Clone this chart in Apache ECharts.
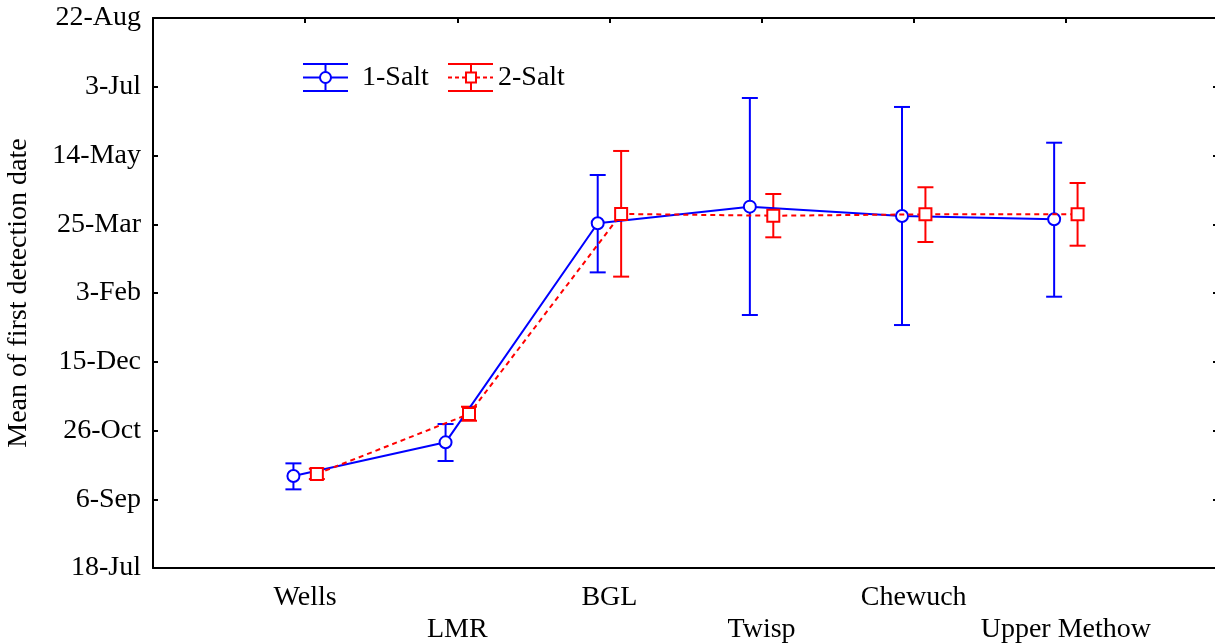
<!DOCTYPE html>
<html>
<head>
<meta charset="utf-8">
<script src="https://cdn.jsdelivr.net/npm/echarts@6/dist/echarts.min.js"></script>
<style>
  html, body { margin: 0; padding: 0; background: #fff; }
  #main { width: 1215px; height: 643px; }
</style>
</head>
<body>
<div id="main"></div>
<script>
// sites along the river
const categories = ['Wells', 'LMR', 'BGL', 'Twisp', 'Chewuch', 'Upper Methow'];
// y axis tick labels, every 50 days from 18-Jul
const dateTicks = ['18-Jul', '6-Sep', '26-Oct', '15-Dec', '3-Feb', '25-Mar', '14-May', '3-Jul', '22-Aug'];

// values are days after 18-Jul
const salt1Mean = [66.9, 91.4, 250.7, 262.8, 256.0, 253.6];
const salt1Low  = [57.2, 77.8, 215.0, 184.0, 176.7, 197.3];
const salt1High = [76.1, 104.7, 285.8, 341.8, 335.3, 309.3];

const salt2Mean = [68.4, 112.0, 257.5, 256.2, 257.2, 257.2];
const salt2Low  = [64.7, 107.1, 211.9, 240.5, 237.1, 234.4];
const salt2High = [72.2, 117.3, 303.3, 272.0, 276.9, 280.0];

const FONT = 'Liberation Serif';
const BLUE = '#0000ff';
const RED = '#ff0000';
const OFF = 0.077; // side shift so the two groups don't overlap

function errorBars(low, high, shift, color) {
  return {
    type: 'custom',
    z: 2,
    data: categories.map((c, i) => [i + 1 + shift, low[i], high[i]]),
    encode: { x: 0, y: [1, 2] },
    renderItem: function (params, api) {
      const x = api.value(0);
      const lo = api.coord([x, api.value(1)]);
      const hi = api.coord([x, api.value(2)]);
      const w = 8;
      const style = { stroke: color, lineWidth: 2 };
      return {
        type: 'group',
        children: [
          { type: 'line', shape: { x1: hi[0], y1: hi[1], x2: lo[0], y2: lo[1] }, style: style },
          { type: 'line', shape: { x1: hi[0] - w, y1: hi[1], x2: hi[0] + w, y2: hi[1] }, style: style },
          { type: 'line', shape: { x1: lo[0] - w, y1: lo[1], x2: lo[0] + w, y2: lo[1] }, style: style }
        ]
      };
    }
  };
}

let myChart = echarts.init(document.getElementById('main'));
myChart.setOption({
  animation: false,
  backgroundColor: '#fff',
  textStyle: { fontFamily: FONT },
  grid: { left: 153, top: 18, width: 1065, height: 550, outerBoundsMode: 'none', containLabel: false },
  xAxis: [
    {
      type: 'value',
      position: 'bottom',
      min: 0, max: 7, interval: 1,
      axisLine: { onZero: false, lineStyle: { color: '#000', width: 2 } },
      axisTick: { show: false },
      splitLine: { show: false },
      axisLabel: {
        color: '#000', fontSize: 28, fontFamily: FONT, lineHeight: 32, margin: 14,
        formatter: function (v) {
          const i = Math.round(v) - 1;
          if (i < 0 || i >= categories.length) return '';
          return (i % 2 ? '\n' : '') + categories[i];
        }
      }
    },
    {
      type: 'value',
      position: 'top',
      min: 0, max: 7, interval: 1,
      axisLine: { onZero: false, lineStyle: { color: '#000', width: 2 } },
      axisTick: { inside: true, length: 5, lineStyle: { color: '#000', width: 2 } },
      axisLabel: { show: false },
      splitLine: { show: false }
    }
  ],
  yAxis: [
    {
      type: 'value',
      position: 'left',
      min: 0, max: 400, interval: 50,
      name: 'Mean of first detection date',
      nameLocation: 'middle',
      nameGap: 120,
      nameTextStyle: { color: '#000', fontSize: 28, fontFamily: FONT },
      axisLine: { show: true, onZero: false, lineStyle: { color: '#000', width: 2 } },
      axisTick: { show: true, inside: true, length: 5, lineStyle: { color: '#000', width: 2 } },
      splitLine: { show: false },
      axisLabel: {
        color: '#000', fontSize: 28, fontFamily: FONT, margin: 12,
        formatter: function (v) { return dateTicks[Math.round(v / 50)]; }
      }
    },
    {
      type: 'value',
      position: 'right',
      min: 0, max: 400, interval: 50,
      axisLine: { show: true, onZero: false, lineStyle: { color: '#000', width: 2 } },
      axisTick: { show: true, inside: true, length: 5, lineStyle: { color: '#000', width: 2 } },
      axisLabel: { show: false },
      splitLine: { show: false }
    }
  ],
  series: [
    errorBars(salt1Low, salt1High, -OFF, BLUE),
    errorBars(salt2Low, salt2High, OFF, RED),
    {
      name: '1-Salt',
      type: 'line',
      z: 3,
      data: salt1Mean.map((v, i) => [i + 1 - OFF, v]),
      symbol: 'circle',
      symbolSize: 12,
      lineStyle: { color: BLUE, width: 2 },
      itemStyle: { color: '#fff', borderColor: BLUE, borderWidth: 2 }
    },
    {
      name: '2-Salt',
      type: 'line',
      z: 4,
      data: salt2Mean.map((v, i) => [i + 1 + OFF, v]),
      symbol: 'rect',
      symbolSize: 12,
      lineStyle: { color: RED, width: 2, type: [5, 4] },
      itemStyle: { color: '#fff', borderColor: RED, borderWidth: 2 }
    }
  ],
  graphic: [
    // legend: 1-Salt
    { type: 'line', shape: { x1: 303, y1: 64, x2: 348, y2: 64 }, style: { stroke: BLUE, lineWidth: 2 } },
    { type: 'line', shape: { x1: 303, y1: 77.5, x2: 348, y2: 77.5 }, style: { stroke: BLUE, lineWidth: 2 } },
    { type: 'line', shape: { x1: 303, y1: 91, x2: 348, y2: 91 }, style: { stroke: BLUE, lineWidth: 2 } },
    { type: 'line', shape: { x1: 325.5, y1: 64, x2: 325.5, y2: 91 }, style: { stroke: BLUE, lineWidth: 2 } },
    { type: 'circle', shape: { cx: 325.5, cy: 77.5, r: 5.5 }, style: { fill: '#fff', stroke: BLUE, lineWidth: 2 } },
    { type: 'text', left: 362, top: 64, style: { text: '1-Salt', fill: '#000', font: '28px "Liberation Serif"' } },
    // legend: 2-Salt
    { type: 'line', shape: { x1: 448, y1: 64, x2: 493, y2: 64 }, style: { stroke: RED, lineWidth: 2 } },
    { type: 'line', shape: { x1: 448, y1: 77.5, x2: 493, y2: 77.5 }, style: { stroke: RED, lineWidth: 2, lineDash: [4, 3] } },
    { type: 'line', shape: { x1: 448, y1: 91, x2: 493, y2: 91 }, style: { stroke: RED, lineWidth: 2 } },
    { type: 'line', shape: { x1: 471, y1: 64, x2: 471, y2: 91 }, style: { stroke: RED, lineWidth: 2 } },
    { type: 'rect', shape: { x: 466, y: 72.5, width: 10, height: 10 }, style: { fill: '#fff', stroke: RED, lineWidth: 2 } },
    { type: 'text', left: 498, top: 64, style: { text: '2-Salt', fill: '#000', font: '28px "Liberation Serif"' } }
  ]
});
</script>
</body>
</html>
